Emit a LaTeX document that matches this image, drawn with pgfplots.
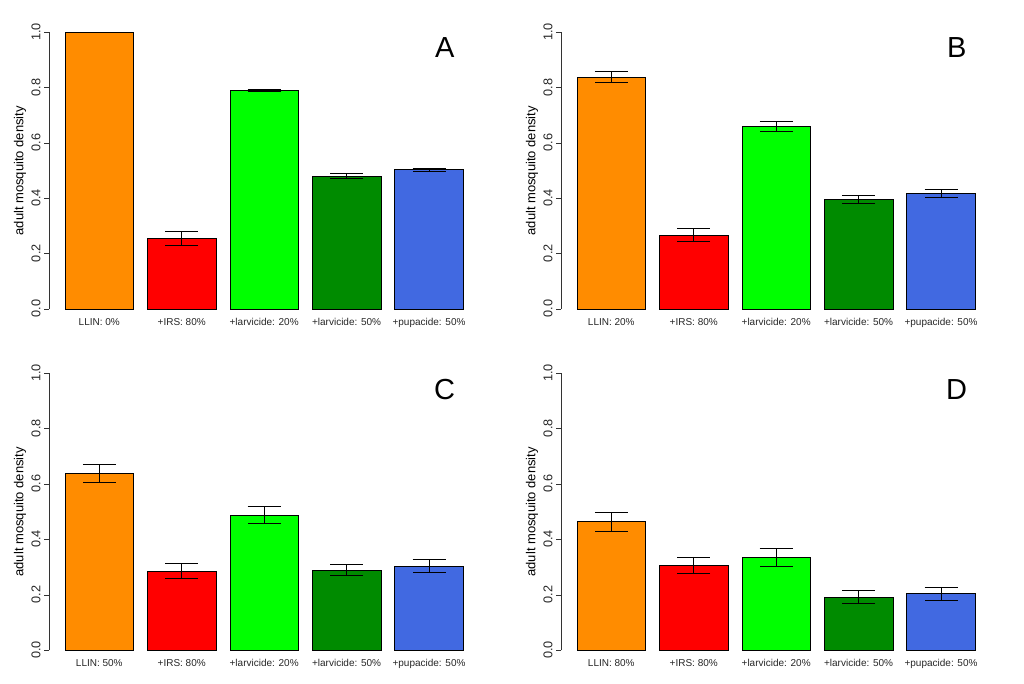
\documentclass[border=0pt]{standalone}
\usepackage{fontspec}
\setmainfont{Liberation Sans}
\usepackage{pgfplots}
\pgfplotsset{compat=1.18}
\definecolor{rorange}{HTML}{FF8C00}
\definecolor{rred}{HTML}{FF0000}
\definecolor{rgreen}{HTML}{00FF00}
\definecolor{rdkgreen}{HTML}{008B00}
\definecolor{rblue}{HTML}{4169E1}

\pgfplotsset{
  rpanel/.style={
    scale only axis, width=429.5pt, height=276.5pt,
    xmin=0.39, xmax=5.6, ymin=0, ymax=1, clip=false,
    separate axis lines,
    axis y line*=left, axis x line*=bottom,
    y axis line style={-, draw=black!80, line width=0.6pt},
    x axis line style={-, draw=none},
    xtick={1,2,3,4,5}, xtick style={draw=none},
    xticklabel style={font=\fontsize{10}{10}\selectfont, text=black!85, yshift=-0.5pt},
    ytick={0,0.2,0.4,0.6,0.8,1},
    tick align=outside, major tick length=5pt,
    ytick style={draw=black!80, line width=0.6pt},
    yticklabel style={font=\fontsize{12.7}{13}\selectfont, text=black!85, rotate=90, anchor=south, xshift=0.5pt},
    /pgf/number format/.cd, fixed, fixed zerofill, precision=1, assume math mode=true,
    /pgfplots/.cd,
    ylabel={adult mosquito density},
    ylabel style={at={(rel axis cs:-0.0675,0.5)}, anchor=center, rotate=0,
      font=\fontsize{13}{13}\selectfont},
  },
  rbar/.style={ybar, bar width=0.831, draw=black, line width=0.6pt,
    error bars/.cd, y dir=both, y explicit,
    error bar style={black, line width=0.7pt},
    error mark options={rotate=90, mark size=16.5pt, line width=0.7pt, black},
    /pgfplots/.cd},
}

\begin{document}
\begin{tikzpicture}
\useasboundingbox (0,0) rectangle (1024pt,683pt);

% A
\begin{axis}[rpanel, at={(49pt,374pt)}, anchor=south west,
  xticklabels={LLIN: 0\%, +IRS: 80\%, +larvicide: 20\%, +larvicide: 50\%, +pupacide: 50\%}]
\addplot[ybar, bar width=0.831, draw=black, line width=0.6pt, fill=rorange] coordinates {(1,1.0)};
\addplot[rbar, fill=rred] coordinates {(2,0.256) +- (0,0.025)};
\addplot[rbar, fill=rgreen] coordinates {(3,0.791) +- (0,0.003)};
\addplot[rbar, fill=rdkgreen] coordinates {(4,0.481) +- (0,0.008)};
\addplot[rbar, fill=rblue] coordinates {(5,0.504) +- (0,0.005)};
\node[font=\fontsize{29}{29}\selectfont] at (axis cs:5.19,0.944) {A};
\end{axis}

% B
\begin{axis}[rpanel, at={(561pt,374pt)}, anchor=south west,
  xticklabels={LLIN: 20\%, +IRS: 80\%, +larvicide: 20\%, +larvicide: 50\%, +pupacide: 50\%}]
\addplot[rbar, fill=rorange] coordinates {(1,0.838) +- (0,0.020)};
\addplot[rbar, fill=rred] coordinates {(2,0.268) +- (0,0.024)};
\addplot[rbar, fill=rgreen] coordinates {(3,0.659) +- (0,0.018)};
\addplot[rbar, fill=rdkgreen] coordinates {(4,0.397) +- (0,0.015)};
\addplot[rbar, fill=rblue] coordinates {(5,0.417) +- (0,0.015)};
\node[font=\fontsize{29}{29}\selectfont] at (axis cs:5.19,0.944) {B};
\end{axis}

% C
\begin{axis}[rpanel, height=277pt, at={(49pt,32.7pt)}, anchor=south west,
  xticklabels={LLIN: 50\%, +IRS: 80\%, +larvicide: 20\%, +larvicide: 50\%, +pupacide: 50\%}]
\addplot[rbar, fill=rorange] coordinates {(1,0.639) +- (0,0.033)};
\addplot[rbar, fill=rred] coordinates {(2,0.287) +- (0,0.027)};
\addplot[rbar, fill=rgreen] coordinates {(3,0.489) +- (0,0.029)};
\addplot[rbar, fill=rdkgreen] coordinates {(4,0.289) +- (0,0.020)};
\addplot[rbar, fill=rblue] coordinates {(5,0.305) +- (0,0.022)};
\node[font=\fontsize{29}{29}\selectfont] at (axis cs:5.19,0.94) {C};
\end{axis}

% D
\begin{axis}[rpanel, height=277pt, at={(561pt,32.7pt)}, anchor=south west,
  xticklabels={LLIN: 80\%, +IRS: 80\%, +larvicide: 20\%, +larvicide: 50\%, +pupacide: 50\%}]
\addplot[rbar, fill=rorange] coordinates {(1,0.464) +- (0,0.034)};
\addplot[rbar, fill=rred] coordinates {(2,0.307) +- (0,0.030)};
\addplot[rbar, fill=rgreen] coordinates {(3,0.336) +- (0,0.032)};
\addplot[rbar, fill=rdkgreen] coordinates {(4,0.193) +- (0,0.024)};
\addplot[rbar, fill=rblue] coordinates {(5,0.204) +- (0,0.025)};
\node[font=\fontsize{29}{29}\selectfont] at (axis cs:5.19,0.94) {D};
\end{axis}
\end{tikzpicture}
\end{document}
